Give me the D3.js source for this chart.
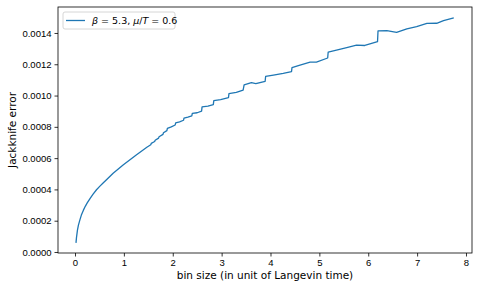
<!DOCTYPE html>
<html lang="en">
<head>
<meta charset="UTF-8" />
<title>Jackknife error vs bin size</title>
<script src="https://cdn.jsdelivr.net/npm/d3@7"></script>
<style>
body{margin:0;background:#fff}
svg{display:block;font-family:"DejaVu Sans",sans-serif}
.axis text{font-size:9.5px;fill:#000}
.axis path,.axis line{stroke:#000;stroke-width:.8}
</style>
</head>
<body>
<svg id="chart" width="480" height="288"></svg>
<script>
/* ===== data ===== */
const binSize=[0.02,0.03,0.05,0.07,0.10,0.13,0.17,0.21,0.25,0.31,0.37,0.44,0.50,0.58,0.66,0.78,0.99,1.26,1.47,
  1.55,1.56,1.63,1.64,1.71,1.72,1.80,1.81,1.88,1.89,1.97,2.05,2.06,2.14,2.22,2.23,
  2.31,2.39,2.40,2.50,2.59,2.60,2.72,2.83,2.84,2.98,3.14,3.15,3.30,3.44,3.46,3.61,
  3.70,3.89,3.90,4.06,4.26,4.43,4.44,4.57,4.81,4.94,5.17,5.18,5.35,5.56,5.76,5.93,
  6.19,6.20,6.38,6.58,6.79,6.99,7.20,7.40,7.54,7.75];
const jkError=[0.000058,0.000092,0.000140,0.000172,0.000205,0.000236,0.000266,0.000292,0.000314,
  0.000343,0.000370,0.000398,0.000418,0.000443,0.000467,0.000503,0.000557,0.000622,0.000670,
  0.000686,0.000694,0.000706,0.000714,0.000728,0.000737,0.000752,0.000762,0.000776,0.000790,
  0.000800,0.000812,0.000825,0.000832,0.000842,0.000856,0.000862,0.000870,0.000886,0.000890,
  0.000900,0.000928,0.000932,0.000942,0.000968,0.000974,0.000986,0.001012,0.001020,0.001034,
  0.001068,0.001082,0.001076,0.001090,0.001122,0.001131,0.001142,0.001153,0.001178,0.001191,
  0.001214,0.001214,0.001240,0.001277,0.001290,0.001306,0.001322,0.001320,0.001344,0.001413,
  0.001415,0.001404,0.001426,0.001440,0.001461,0.001462,0.001479,0.001496];
const xTicks=[0,1,2,3,4,5,6,7,8];
const yTicks=[0,0.0002,0.0004,0.0006,0.0008,0.0010,0.0012,0.0014];
const seriesLabel=['β',' = 5.3, ','μ','/','T',' = 0.6'];
const xLabel='bin size (in unit of Langevin time)';
const yLabel='Jackknife error';

/* ===== chart ===== */
const svg=d3.select('#chart'),
      M={l:58,r:8,t:7,b:35},W=+svg.attr('width'),H=+svg.attr('height'),
      w=W-M.l-M.r,h=H-M.t-M.b;
const g=svg.append('g').attr('transform',`translate(${M.l},${M.t})`);
const x=d3.scaleLinear().domain([-0.348,8.123]).range([0,w]);
const y=d3.scaleLinear().domain([-0.0000064,0.001566]).range([h,0]);

g.append('g').attr('class','axis').attr('transform',`translate(0,${h})`)
  .call(d3.axisBottom(x).tickValues(xTicks).tickFormat(d3.format('d')).tickSize(3.5).tickPadding(3));
g.append('g').attr('class','axis')
  .call(d3.axisLeft(y).tickValues(yTicks).tickFormat(d3.format('.4f')).tickSize(3.5).tickPadding(3));
g.selectAll('.axis .domain').remove();
g.append('rect').attr('width',w).attr('height',h).attr('fill','none').attr('stroke','#000').attr('stroke-width',.8);

g.append('path').datum(d3.zip(binSize,jkError)).attr('fill','none').attr('stroke','#1f77b4')
  .attr('stroke-width',1.3).attr('stroke-linejoin','round')
  .attr('d',d3.line().x(d=>x(d[0])).y(d=>y(d[1])));

/* axis labels */
svg.append('text').attr('x',M.l+w/2).attr('y',279).attr('text-anchor','middle')
  .attr('font-size',10.5).text(xLabel);
svg.append('text').attr('transform',`translate(16,${M.t+h/2}) rotate(-90)`).attr('text-anchor','middle')
  .attr('font-size',10.5).text(yLabel);

/* legend */
const lg=g.append('g').attr('transform','translate(5,5)');
lg.append('rect').attr('width',112).attr('height',17).attr('rx',2)
  .attr('fill','#fff').attr('fill-opacity',.8).attr('stroke','#ccc').attr('stroke-width',.8);
lg.append('line').attr('x1',3).attr('x2',22).attr('y1',8.5).attr('y2',8.5)
  .attr('stroke','#1f77b4').attr('stroke-width',1.3);
const lt=lg.append('text').attr('x',29).attr('y',12).attr('font-size',9.5);
seriesLabel.forEach(s=>lt.append('tspan').attr('font-style',/^[βμT]$/.test(s)?'italic':null).text(s));
</script>
</body>
</html>
